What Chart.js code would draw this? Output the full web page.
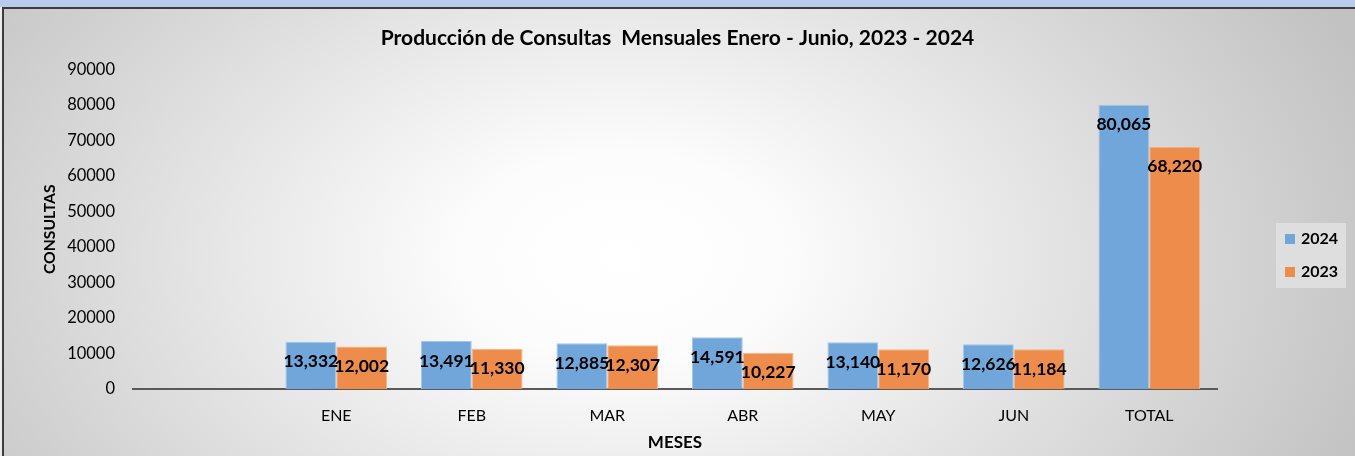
<!DOCTYPE html>
<html><head><meta charset="utf-8">
<script src="https://cdn.jsdelivr.net/npm/chart.js@4.4.1/dist/chart.umd.min.js"></script>
<style>
html,body{margin:0;padding:0;width:1355px;height:456px;overflow:hidden;background:#ececec;}
#strip{position:absolute;left:0;top:0;width:1355px;height:7px;background:#b8cbef;}
#frame{position:absolute;left:2px;top:7px;width:1353px;height:449px;box-sizing:border-box;border-top:2px solid #3c3c3c;border-left:2px solid #3c3c3c;
background:radial-gradient(ellipse 800px 520px at 618px 248px,#ffffff 0%,#fcfcfc 20%,#c2c2c2 100%);}
#wrap{position:absolute;left:0;top:0;width:1355px;height:456px;}
</style></head>
<body><div id="strip"></div><div id="frame"></div><div id="wrap"><canvas id="c"></canvas></div>
<script>
const categories = ['', 'ENE', 'FEB', 'MAR', 'ABR', 'MAY', 'JUN', 'TOTAL'];
const values2024 = [null, 13332, 13491, 12885, 14591, 13140, 12626, 80065];
const values2023 = [null, 12002, 11330, 12307, 10227, 11170, 11184, 68220];
const seriesNames = ['2024', '2023'];
const yMin = 0, yMax = 90000, yStep = 10000;
const titleText = 'Producción de Consultas  Mensuales Enero - Junio, 2023 - 2024';
const yTitle = 'CONSULTAS';
const xTitle = 'MESES';

const FONT = 'Lato, "Open Sans", sans-serif';
Chart.defaults.font.family = FONT;
Chart.defaults.color = '#000';

const chartTitle = {
  id: 'chartTitle',
  afterDraw(chart) {
    const ctx = chart.ctx; ctx.save();
    ctx.font = 'bold 21px ' + FONT; ctx.fillStyle = '#000';
    ctx.textAlign = 'center'; ctx.textBaseline = 'middle';
    ctx.fillText(titleText, chart.width / 2, 38);
    ctx.restore();
  }
};

const barLabels = {
  id: 'barLabels',
  afterDatasetsDraw(chart) {
    const ctx = chart.ctx; ctx.save();
    ctx.font = 'bold 17.5px ' + FONT; ctx.fillStyle = '#000';
    ctx.textAlign = 'center'; ctx.textBaseline = 'middle';
    chart.data.datasets.forEach((ds, di) => {
      const meta = chart.getDatasetMeta(di);
      meta.data.forEach((bar, i) => {
        const v = ds.data[i]; if (v == null) return;
        ctx.fillText(v.toLocaleString('en-US'), bar.x, bar.y + 20);
      });
    });
    ctx.restore();
  }
};

const boxLegend = {
  id: 'boxLegend',
  afterDraw(chart) {
    const ctx = chart.ctx; ctx.save();
    const x = chart.chartArea.right + 59, y = 223, w = 70, h = 65;
    ctx.fillStyle = 'rgba(224,224,224,0.9)';
    ctx.fillRect(x, y, w, h);
    ctx.font = 'bold 16px ' + FONT; ctx.textBaseline = 'middle'; ctx.textAlign = 'left';
    chart.data.datasets.forEach((ds, i) => {
      const cy = y + 16 + i * 33;
      ctx.fillStyle = ds.backgroundColor;
      ctx.fillRect(x + 9, cy - 5, 10, 10);
      ctx.fillStyle = '#000';
      ctx.fillText(ds.label, x + 25, cy);
    });
    ctx.restore();
  }
};

new Chart(document.getElementById('c'), {
  type: 'bar',
  data: {
    labels: categories,
    datasets: [
      { label: seriesNames[0], data: values2024, backgroundColor: '#70a6da', borderColor: '#a3c7ea', borderWidth: 1 },
      { label: seriesNames[1], data: values2023, backgroundColor: '#ee8c4c', borderColor: '#f6b58b', borderWidth: 1 }
    ]
  },
  options: {
    responsive: true, maintainAspectRatio: false, animation: false,
    layout: { padding: { left: 0, right: 138, top: 69.5, bottom: 0 } },
    datasets: { bar: { categoryPercentage: 0.75, barPercentage: 1.0 } },
    plugins: {
      legend: { display: false },
      tooltip: { enabled: false },
      title: { display: false }
    },
    scales: {
      x: {
        grid: { display: false, drawTicks: false },
        border: { display: true, color: '#595959', width: 2 },
        ticks: { padding: 17, color: '#000', font: { size: 16 }, maxRotation: 0, autoSkip: false },
        title: { display: true, text: xTitle, color: '#000', font: { size: 17, weight: 'bold' }, padding: { top: 0, bottom: 3 } },
        afterFit(s) { s.height = 67; }
      },
      y: {
        min: yMin, max: yMax,
        grid: { display: false, drawTicks: false },
        border: { display: false },
        ticks: { stepSize: yStep, padding: 18, color: '#000', font: { size: 16.5 }, callback: v => String(v) },
        title: { display: true, text: yTitle, color: '#000', font: { size: 15.7, weight: 'bold' }, padding: { top: 40.5, bottom: 0 } },
        afterFit(s) { s.width = 133; }
      }
    }
  },
  plugins: [barLabels, boxLegend, chartTitle]
});
</script>
</body></html>
